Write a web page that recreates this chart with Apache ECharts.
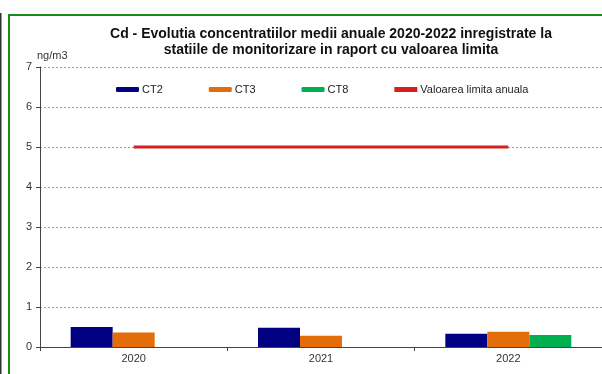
<!DOCTYPE html>
<html>
<head>
<meta charset="utf-8">
<script src="https://cdn.jsdelivr.net/npm/echarts@6/dist/echarts.min.js"></script>
<style>
html,body{margin:0;padding:0;background:#fff;}
#c{width:602px;height:374px;}
</style>
</head>
<body>
<div id="c"></div>
<script>
var titleText = 'Cd - Evolutia concentratiilor medii anuale 2020-2022 inregistrate la\nstatiile de monitorizare in raport cu valoarea limita';
var unitLabel = 'ng/m3';
var years = ['2020', '2021', '2022'];
var ct2 = [0.50, 0.48, 0.33];
var ct3 = [0.36, 0.28, 0.38];
var ct8 = [null, null, 0.30];
var limitValue = [5, 5, 5];
var seriesNames = ['CT2', 'CT3', 'CT8', 'Valoarea limita anuala'];

var chart = echarts.init(document.getElementById('c'), null, {renderer: 'canvas'});
var font = 'Arial, "Liberation Sans", sans-serif';
var option = {
  animation: false,
  backgroundColor: '#ffffff',
  textStyle: {fontFamily: font},
  title: {
    text: titleText,
    left: 326,
    top: 21,
    textAlign: 'center',
    textStyle: {fontFamily: font, fontSize: 14, fontWeight: 'bold', color: '#111', lineHeight: 16}
  },
  legend: {
    left: 116,
    top: 84,
    padding: 0,
    itemWidth: 23,
    itemHeight: 5,
    itemGap: 46,
    textStyle: {fontFamily: font, fontSize: 11, color: '#222', padding: [0, 0, 0, -2]},
    data: [
      seriesNames[0], seriesNames[1], seriesNames[2],
      {name: seriesNames[3], icon: 'rect', itemStyle: {color: '#D42020'}}
    ]
  },
  grid: {left: 40, right: 0, top: 67, bottom: 27, containLabel: false},
  xAxis: {
    type: 'category',
    data: years,
    boundaryGap: true,
    axisLine: {lineStyle: {color: '#444', width: 1}},
    axisTick: {show: true, length: 4, lineStyle: {color: '#444'}},
    axisLabel: {fontFamily: font, fontSize: 11, color: '#333', margin: 6},
    splitLine: {show: false}
  },
  yAxis: {
    type: 'value',
    min: 0,
    max: 7,
    interval: 1,
    name: unitLabel,
    nameLocation: 'end',
    nameGap: 1,
    nameTextStyle: {fontFamily: font, fontSize: 11, color: '#333', align: 'left', padding: [0, 0, 0, -3]},
    axisLine: {show: true, lineStyle: {color: '#444', width: 1}},
    axisTick: {show: true, length: 4, lineStyle: {color: '#444'}},
    axisLabel: {fontFamily: font, fontSize: 11, color: '#333', margin: 8},
    splitLine: {show: true, lineStyle: {color: '#9a9a9a', type: [2, 2], width: 1}}
  },
  series: [
    {name: seriesNames[0], type: 'bar', data: ct2, barWidth: 42, barGap: '0%', itemStyle: {color: '#000080'}},
    {name: seriesNames[1], type: 'bar', data: ct3, barWidth: 42, barGap: '0%', itemStyle: {color: '#E46C0A'}},
    {name: seriesNames[2], type: 'bar', data: ct8, barWidth: 42, barGap: '0%', itemStyle: {color: '#00B050'}},
    {name: seriesNames[3], type: 'line', data: limitValue, symbol: 'none', showSymbol: false, z: 5,
      lineStyle: {color: '#D42020', width: 3}, itemStyle: {color: '#D42020'}}
  ],
  graphic: [
    {type: 'line', shape: {x1: 0.75, y1: 13, x2: 0.75, y2: 374}, style: {stroke: '#333', lineWidth: 1.5}, silent: true},
    {type: 'polyline', shape: {points: [[9, 374], [9, 15], [602, 15]]}, style: {stroke: '#1a8a1a', lineWidth: 2, fill: null}, silent: true}
  ]
};
chart.setOption(option);
</script>
</body>
</html>
